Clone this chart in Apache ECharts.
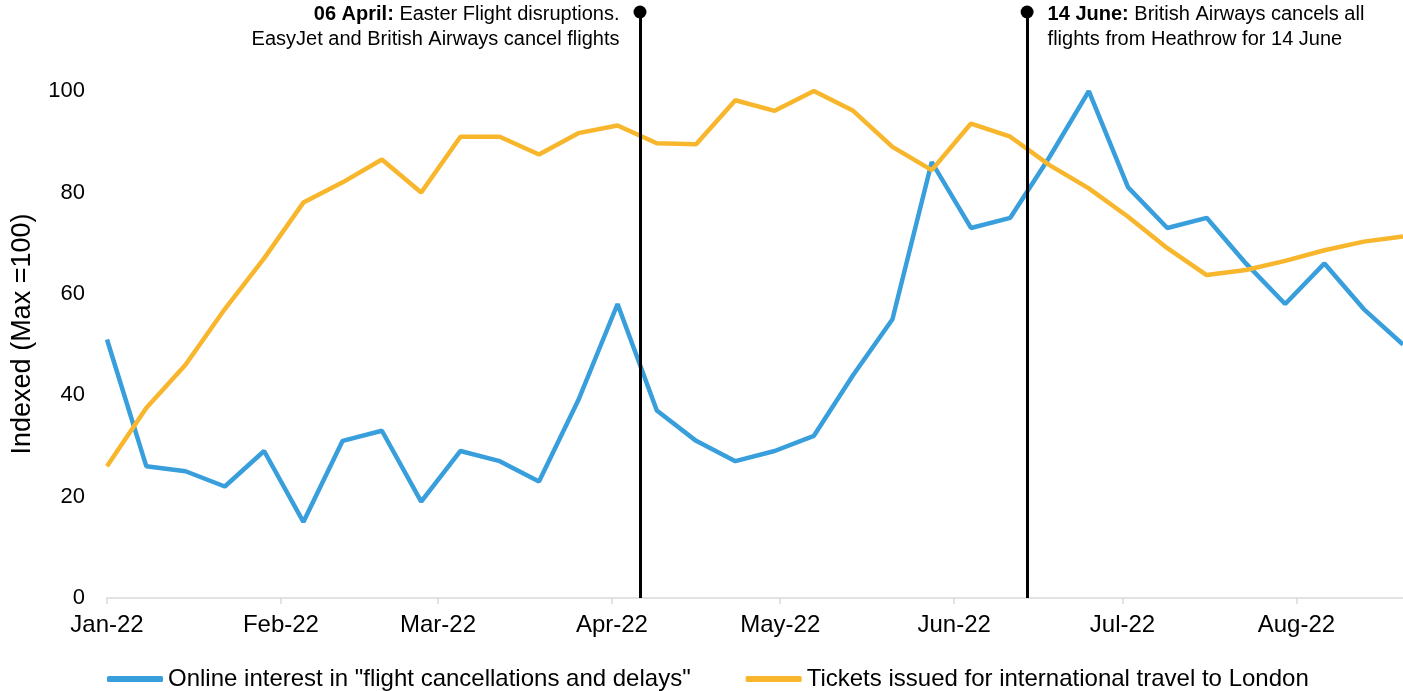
<!DOCTYPE html>
<html>
<head>
<meta charset="utf-8">
<script src="https://cdn.jsdelivr.net/npm/echarts@6/dist/echarts.min.js"></script>
<style>
  html, body { margin: 0; padding: 0; background: #fff; }
  #main { width: 1403px; height: 691px; }
</style>
</head>
<body>
<div id="main"></div>
<script>
// weekly dates
let dates = [
  '2022-01-01', '2022-01-08', '2022-01-15', '2022-01-22', '2022-01-29',
  '2022-02-05', '2022-02-12', '2022-02-19', '2022-02-26',
  '2022-03-05', '2022-03-12', '2022-03-19', '2022-03-26',
  '2022-04-02', '2022-04-09', '2022-04-16', '2022-04-23', '2022-04-30',
  '2022-05-07', '2022-05-14', '2022-05-21', '2022-05-28',
  '2022-06-04', '2022-06-11', '2022-06-18', '2022-06-25',
  '2022-07-02', '2022-07-09', '2022-07-16', '2022-07-23', '2022-07-30',
  '2022-08-06', '2022-08-13', '2022-08-20'
];
let interest = [51, 26, 25, 22, 29, 15, 31, 33, 19, 29, 27, 23, 39, 58, 37, 31, 27,
  29, 32, 44, 55, 86, 73, 75, 87, 100, 81, 73, 75, 66, 58, 66, 57, 50];
let tickets = [26, 37.5, 46, 57, 67, 78, 82, 86.5, 80, 91, 91, 87.5, 91.7, 93.2, 89.7, 89.5, 98.2,
  96.1, 100, 96.1, 89, 84.4, 93.6, 91, 85.4, 80.8, 75.2, 69, 63.7, 64.7, 66.5, 68.6, 70.3, 71.3];
let monthNames = ['Jan', 'Feb', 'Mar', 'Apr', 'May', 'Jun', 'Jul', 'Aug', 'Sep', 'Oct', 'Nov', 'Dec'];
let events = [
  { date: '2022-04-06', bold: '06 April:', text: ' Easter Flight disruptions.\nEasyJet and British Airways cancel flights', side: 'left' },
  { date: '2022-06-14', bold: '14 June:', text: ' British Airways cancels all\nflights from Heathrow for 14 June', side: 'right' }
];

let font = 'Liberation Sans, Arial, sans-serif';
let yTop = 115.6; // where the event markers end

function ts(s) {
  let p = s.split('-');
  return Date.UTC(+p[0], +p[1] - 1, +p[2]);
}

let container = document.querySelector('#main');
let chart = echarts.init(container, null, { renderer: 'canvas' });

chart.setOption({
  animation: false,
  useUTC: true,
  textStyle: { fontFamily: font },
  grid: { left: 107, right: 0, top: 12, bottom: 93, outerBoundsMode: 'none', containLabel: false },
  legend: {
    data: ['Online interest in "flight cancellations and delays"', 'Tickets issued for international travel to London'],
    left: 102,
    top: 662,
    icon: 'roundRect',
    itemWidth: 56,
    itemHeight: 6,
    itemGap: 55,
    textStyle: { fontSize: 24, color: '#000', fontFamily: font }
  },
  xAxis: {
    type: 'time',
    min: ts(dates[0]),
    max: ts(dates[dates.length - 1]),
    splitNumber: 8,
    axisLine: { lineStyle: { color: '#d9d9d9', width: 1.5 } },
    axisTick: { show: true, length: 6, lineStyle: { color: '#d9d9d9', width: 1.5 } },
    splitLine: { show: false },
    axisLabel: {
      fontSize: 24,
      color: '#000',
      margin: 15,
      hideOverlap: false,
      formatter: function (v) {
        let d = new Date(v);
        return monthNames[d.getUTCMonth()] + '-' + String(d.getUTCFullYear()).slice(2);
      }
    }
  },
  yAxis: {
    type: 'value',
    min: 0,
    max: yTop,
    interval: 20,
    name: 'Indexed (Max =100)',
    nameLocation: 'middle',
    nameGap: 71,
    nameTextStyle: { fontSize: 27, color: '#000', fontFamily: font, padding: [0, 58, 0, 0] },
    axisLine: { show: false },
    axisTick: { show: false },
    splitLine: { show: false },
    axisLabel: { fontSize: 22, color: '#000', margin: 22, showMaxLabel: false }
  },
  series: [{
      name: 'Online interest in "flight cancellations and delays"',
      type: 'line',
      data: dates.map((d, i) => [ts(d), interest[i]]),
      showSymbol: false,
      symbol: 'none',
      lineStyle: { color: '#389FDC', width: 4.5 },
      itemStyle: { color: '#389FDC' }
    },
    {
      name: 'Tickets issued for international travel to London',
      type: 'line',
      data: dates.map((d, i) => [ts(d), tickets[i]]),
      showSymbol: false,
      symbol: 'none',
      lineStyle: { color: '#F8B62C', width: 4.5 },
      itemStyle: { color: '#F8B62C' },
      markLine: {
        silent: true,
        symbol: ['none', 'none'],
        label: { show: false },
        lineStyle: { color: '#000', width: 3, type: 'solid' },
        data: events.map(e => [{ coord: [ts(e.date), 0] }, { coord: [ts(e.date), yTop] }])
      },
      markPoint: {
        silent: true,
        symbol: 'circle',
        symbolSize: 13,
        itemStyle: { color: '#000' },
        data: events.map(e => ({
          coord: [ts(e.date), yTop],
          label: {
            show: true,
            position: e.side === 'left' ? [-14, -4] : [27, -4],
            align: e.side === 'left' ? 'right' : 'left',
            verticalAlign: 'top',
            color: '#000',
            fontSize: 20,
            lineHeight: 25,
            fontFamily: font,
            formatter: '{b|' + e.bold + '}' + e.text,
            rich: {
              b: { fontWeight: 'bold', fontSize: 20, lineHeight: 25, color: '#000', fontFamily: font }
            }
          }
        }))
      }
    }
  ]
});
</script>
</body>
</html>
